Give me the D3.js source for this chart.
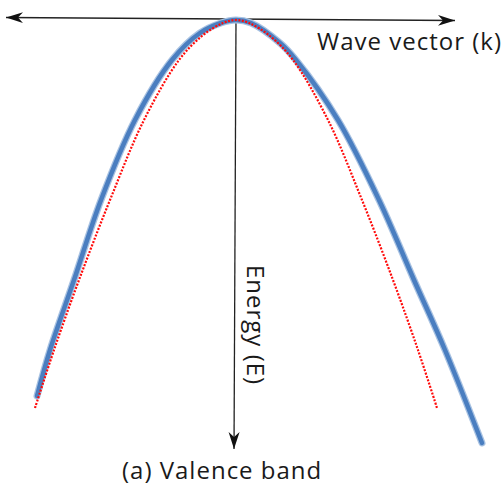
<!DOCTYPE html>
<html>
<head>
<meta charset="utf-8">
<script src="https://cdn.jsdelivr.net/npm/d3@7"></script>
<style>
  html, body { margin: 0; padding: 0; background: #fff; }
  text { font-family: "Open Sans", sans-serif; fill: #1a1a1a; letter-spacing: 1px; }
</style>
</head>
<body>
<div id="chart"></div>
<script>
// band curves, k = wave vector, E = energy (arbitrary units, apex at 0,0)
const blueK = [-1.99, -1.86, -1.62, -1.35, -1.01, -0.64, -0.36, -0.15, 0, 0.15, 0.44, 0.60, 1.02, 1.43, 1.78, 2.09, 2.46];
const blueE = [-3.76, -3.30, -2.60, -1.80, -1.00, -0.40, -0.13, -0.03, 0, -0.03, -0.23, -0.40, -1.00, -1.80, -2.60, -3.30, -4.23];

const redK = [-2.01, -1.82, -1.57, -1.26, -0.92, -0.57, -0.34, -0.13, 0, 0.13, 0.34, 0.57, 0.92, 1.26, 1.57, 1.82, 2.01];
const redE = [-3.88, -3.30, -2.60, -1.80, -1.00, -0.40, -0.16, -0.03, 0, -0.03, -0.16, -0.40, -1.00, -1.80, -2.60, -3.30, -3.88];

// axis arrows extents
const kAxis = [-2.30, 2.19];
const eAxis = [0, -4.29];

const labels = {
  k: "Wave vector (k)",
  E: "Energy (E)",
  caption: "(a) Valence band"
};

const width = 503, height = 500;

const svg = d3.select("#chart").append("svg")
  .attr("width", width)
  .attr("height", height);

const x = d3.scaleLinear().domain([-2.5, 2.5]).range([-14, 486]);
const y = d3.scaleLinear().domain([0, -4.5]).range([20, 470]);

// arrowhead marker (stealth style)
svg.append("defs").append("marker")
  .attr("id", "head")
  .attr("viewBox", "0 -6 18 12")
  .attr("refX", 17)
  .attr("refY", 0)
  .attr("markerUnits", "userSpaceOnUse")
  .attr("markerWidth", 18)
  .attr("markerHeight", 12)
  .attr("orient", "auto-start-reverse")
  .append("path")
  .attr("d", "M17,0 L0,-5.5 L5,0 L0,5.5 Z")
  .attr("fill", "#111");

const line = d3.line().x(d => d[0]).y(d => d[1]);

// horizontal axis (k), slightly tilted like the drawing
svg.append("path")
  .attr("d", line([[x(kAxis[0]), 17.5], [x(kAxis[1]), 20.5]]))
  .attr("stroke", "#222")
  .attr("stroke-width", 1.3)
  .attr("fill", "none")
  .attr("marker-start", "url(#head)")
  .attr("marker-end", "url(#head)");

// vertical axis (E)
svg.append("path")
  .attr("d", line([[x(0), y(eAxis[0]) - 1], [x(0) - 2, y(eAxis[1])]]))
  .attr("stroke", "#222")
  .attr("stroke-width", 1.3)
  .attr("fill", "none")
  .attr("marker-end", "url(#head)");

const curve = d3.line()
  .x(d => x(d[0]))
  .y(d => y(d[1]))
  .curve(d3.curveCatmullRom.alpha(0.5));

const blue = d3.zip(blueK, blueE);
const red = d3.zip(redK, redE);

// soft halo under blue line
svg.append("path")
  .attr("d", curve(blue))
  .attr("fill", "none")
  .attr("stroke", "#a8c2e2")
  .attr("stroke-width", 7)
  .attr("stroke-linecap", "round");

svg.append("path")
  .attr("d", curve(blue))
  .attr("fill", "none")
  .attr("stroke", "#4a7ec0")
  .attr("stroke-width", 4.5)
  .attr("stroke-linecap", "round");

svg.append("path")
  .attr("d", curve(red))
  .attr("fill", "none")
  .attr("stroke", "#ff0a0a")
  .attr("stroke-width", 2.2)
  .attr("stroke-dasharray", "2 1.5");

svg.append("text")
  .attr("x", 317)
  .attr("y", 50)
  .attr("font-size", 24)
  .text(labels.k);

svg.append("text")
  .attr("transform", `translate(247,265) rotate(90)`)
  .attr("font-size", 24)
  .text(labels.E);

svg.append("text")
  .attr("x", 122)
  .attr("y", 479)
  .attr("font-size", 24)
  .text(labels.caption);
</script>
</body>
</html>
